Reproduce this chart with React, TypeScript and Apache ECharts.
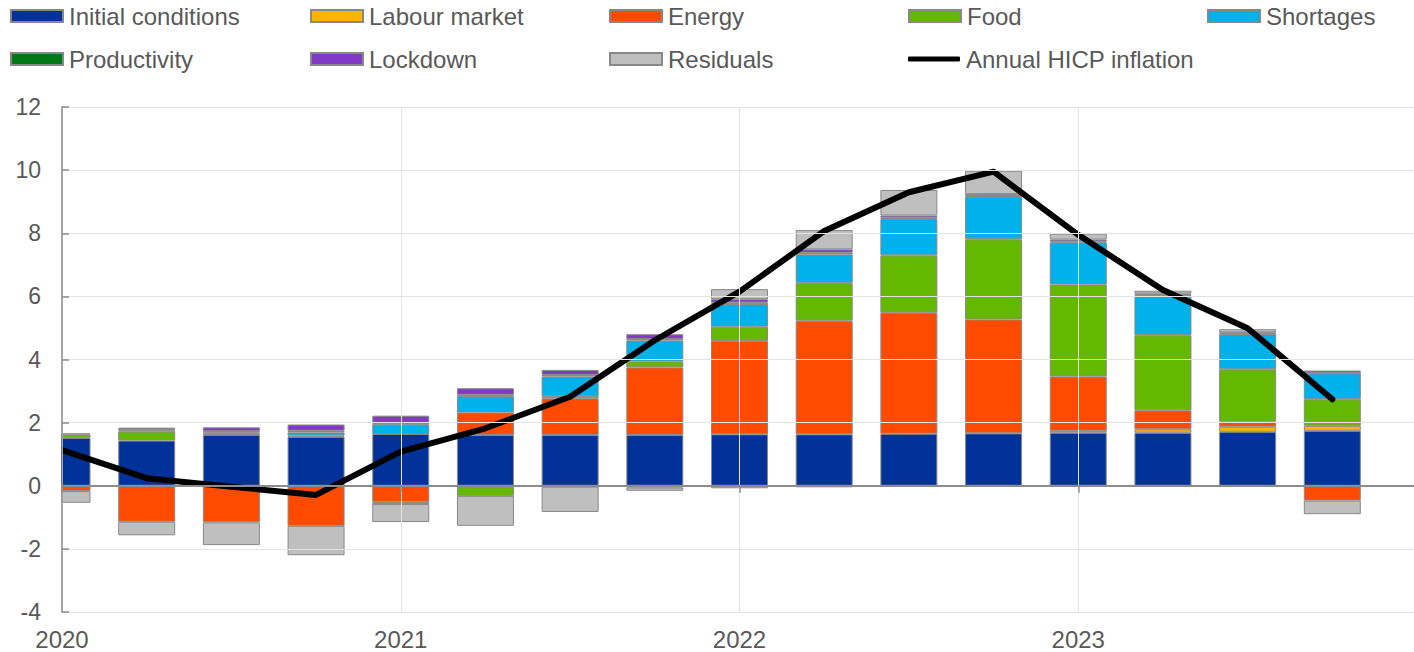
import React, { useEffect, useRef } from "react";
import * as echarts from "echarts";

const quarters = [
  "2020Q1", "2020Q2", "2020Q3", "2020Q4",
  "2021Q1", "2021Q2", "2021Q3", "2021Q4",
  "2022Q1", "2022Q2", "2022Q3", "2022Q4",
  "2023Q1", "2023Q2", "2023Q3", "2023Q4",
  "2024Q1",
];
const yearLabels = ["2020", "2021", "2022", "2023"];

const initialConditions = [1.52, 1.43, 1.61, 1.55, 1.64, 1.61, 1.61, 1.61, 1.63, 1.63, 1.65, 1.66, 1.68, 1.68, 1.71, 1.74];
const labourMarket = [0, 0, 0, 0, 0, 0, -0.03, -0.06, -0.08, -0.05, -0.03, -0.02, 0.06, 0.11, 0.16, 0.16];
const energy = [-0.17, -1.14, -1.16, -1.27, -0.51, 0.71, 1.16, 2.14, 2.96, 3.6, 3.83, 3.61, 1.72, 0.6, 0.16, -0.47];
const food = [0.1, 0.29, 0.04, 0.04, -0.07, -0.32, 0.07, 0.19, 0.45, 1.2, 1.82, 2.54, 2.92, 2.38, 1.66, 0.84];
const shortages = [0, 0.03, 0.04, 0.1, 0.29, 0.52, 0.62, 0.66, 0.72, 0.9, 1.15, 1.34, 1.33, 1.26, 1.11, 0.82];
const productivity = [0.04, 0.05, 0.04, 0.05, 0.06, 0.04, 0.05, 0.05, 0.04, 0.05, 0.04, 0.03, 0.03, 0.02, 0.02, 0.02];
const lockdown = [0, 0.04, 0.12, 0.2, 0.23, 0.21, 0.16, 0.15, 0.11, 0.11, 0.07, 0.06, 0.06, 0.04, 0.04, 0.07];
const residuals = [-0.37, -0.43, -0.72, -0.93, -0.57, -0.95, -0.8, -0.1, 0.32, 0.61, 0.81, 0.74, 0.19, 0.09, 0.1, -0.43];
const hicpInflation = [1.13, 0.24, -0.03, -0.29, 1.08, 1.82, 2.82, 4.61, 6.15, 8.07, 9.3, 9.95, 7.95, 6.2, 4.99, 2.74];

const barSeriesDefs = [
  { name: "Initial conditions", data: initialConditions, color: "#003299" },
  { name: "Labour market", data: labourMarket, color: "#FFB400" },
  { name: "Energy", data: energy, color: "#FF4B00" },
  { name: "Food", data: food, color: "#65B800" },
  { name: "Shortages", data: shortages, color: "#00B1EA" },
  { name: "Productivity", data: productivity, color: "#007816" },
  { name: "Lockdown", data: lockdown, color: "#8139C6" },
  { name: "Residuals", data: residuals, color: "#BFBFBF" },
];
const lineName = "Annual HICP inflation";

const FONT = "'Liberation Sans', Arial, Helvetica, sans-serif";
const TEXT = "#595959";
const AXIS = "#8C8C8C";
const GRID = "#E3E3E3";

export default function App() {
  const ref = useRef<HTMLDivElement>(null);

  useEffect(() => {
    if (!ref.current) return;
    const chart = echarts.init(ref.current, undefined, { renderer: "svg" });

    const legendPos = [
      { name: "Initial conditions", left: 10, top: 4 },
      { name: "Labour market", left: 310, top: 4 },
      { name: "Energy", left: 609, top: 4 },
      { name: "Food", left: 908, top: 4 },
      { name: "Shortages", left: 1207, top: 4 },
      { name: "Productivity", left: 10, top: 47 },
      { name: "Lockdown", left: 310, top: 47 },
      { name: "Residuals", left: 609, top: 47 },
      { name: lineName, left: 908, top: 47 },
    ];

    const legends = legendPos.map((p) => ({
      left: p.left,
      top: p.top,
      data: [p.name],
      selectedMode: false,
      padding: 0,
      itemWidth: 52,
      itemHeight: p.name === lineName ? 5 : 12,
      icon: p.name === lineName ? "roundRect" : "rect",
      itemGap: 0,
      textStyle: { fontSize: 24, color: TEXT, fontFamily: FONT, padding: [0, 0, 0, 1] },
    }));

    const gridLeft = 62;
    const gridTop = 107;
    const gridBottom = 40;

    const option: any = {
      animation: false,
      textStyle: { fontFamily: FONT },
      legend: legends,
      grid: { left: gridLeft, right: 0, top: gridTop, bottom: gridBottom, containLabel: false },
      graphic: [
        {
          type: "rect",
          z: 3,
          silent: true,
          shape: { x: 0, y: gridTop - 2, width: gridLeft - 1, height: 652 - gridTop - gridBottom + 4 },
          style: { fill: "#ffffff" },
        },
      ],
      xAxis: [
        {
          type: "category",
          data: quarters,
          boundaryGap: false,
          position: "bottom",
          z: 10,
          axisLine: { show: false, onZero: false },
          axisTick: { show: false },
          axisLabel: {
            interval: 0,
            fontSize: 24,
            color: TEXT,
            fontFamily: FONT,
            margin: 15,
            formatter: (_v: string, i: number) =>
              i % 4 === 0 && i / 4 < yearLabels.length ? yearLabels[i / 4] : "",
          },
          splitLine: { show: true, interval: 3, lineStyle: { color: GRID, width: 1 } },
        },
        {
          type: "category",
          data: quarters,
          boundaryGap: false,
          position: "top",
          z: 10,
          axisLine: { show: true, onZero: true, lineStyle: { color: AXIS, width: 2 } },
          axisTick: { show: true, inside: true, interval: 3, length: 7, lineStyle: { color: AXIS, width: 1.5 } },
          axisLabel: { show: false },
          splitLine: { show: false },
        },
      ],
      yAxis: {
        type: "value",
        min: -4,
        max: 12,
        interval: 2,
        z: 10,
        axisLine: { show: true, onZero: false, lineStyle: { color: AXIS, width: 1.5 } },
        axisTick: { show: true, inside: true, length: 7, lineStyle: { color: AXIS, width: 1.5 } },
        axisLabel: { fontSize: 23, color: TEXT, fontFamily: FONT, margin: 21 },
        splitLine: { show: true, lineStyle: { color: GRID, width: 1 } },
      },
      series: [
        ...barSeriesDefs.map((s) => ({
          name: s.name,
          type: "bar",
          stack: "total",
          xAxisIndex: 0,
          barWidth: 57,
          itemStyle: { color: s.color, borderColor: "#888888", borderWidth: 1 },
          data: s.data.map((v) => (v === 0 ? null : v)),
          z: 2,
        })),
        {
          name: lineName,
          type: "line",
          xAxisIndex: 0,
          data: hicpInflation,
          showSymbol: false,
          symbol: "none",
          itemStyle: { color: "#000000" },
          lineStyle: { color: "#000000", width: 6, cap: "round", join: "round" },
          z: 2.5,
        },
      ],
    };

    chart.setOption(option);
    return () => chart.dispose();
  }, []);

  return (
    <div
      ref={ref}
      style={{ position: "fixed", left: 0, top: 0, width: 1420, height: 652, background: "#fff" }}
    />
  );
}
